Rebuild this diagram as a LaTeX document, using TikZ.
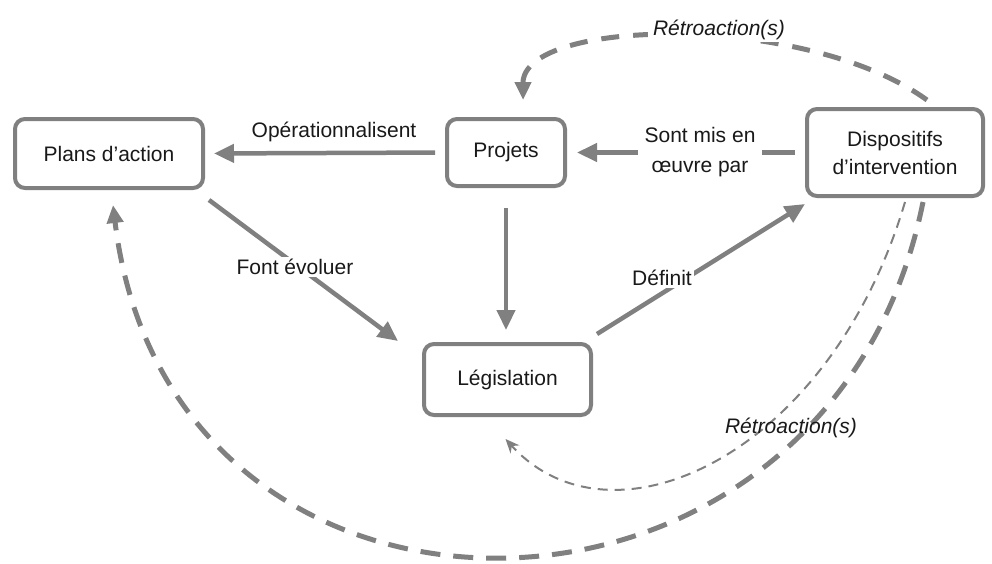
\documentclass[tikz,border=0pt]{standalone}
\usepackage{fontspec}
\setmainfont{Liberation Sans}
\usetikzlibrary{arrows.meta,calc}
\definecolor{lg}{RGB}{128,128,128}
\definecolor{tx}{RGB}{25,25,25}
\begin{document}
\begin{tikzpicture}[x=1pt,y=-1pt,
 box/.style={draw=lg,line width=4pt,rounded corners=10pt,fill=white,text=tx,font=\fontsize{21}{28}\selectfont,align=center,inner sep=0pt},
 arr/.style={draw=lg,line width=4.5pt,-{Triangle[length=20pt,width=18pt]}},
 lbl/.style={text=tx,font=\fontsize{21}{30}\selectfont,fill=white,inner sep=2pt,align=center},
 fb/.style={draw=lg,line width=5pt,dash pattern=on 20pt off 13pt,-{Triangle[length=18pt,width=16pt]}},
 fbthin/.style={draw=lg,line width=2pt,dash pattern=on 10pt off 7pt,-{Stealth[length=14pt,width=12pt]}},
]
\useasboundingbox (0,0) rectangle (992,563);

% nodes
\node[box,minimum width=188pt,minimum height=69pt] (plans) at (109,153.5) {Plans d’action};
\node[box,minimum width=118pt,minimum height=67pt] (proj) at (506,152.5) {Projets};
\node[box,minimum width=176pt,minimum height=87pt] (disp) at (895,152.5) {Dispositifs\\d’intervention};
\node[box,minimum width=167pt,minimum height=71pt] (leg) at (507.5,379.5) {Législation};

% feedback curves
\draw[fb,dash pattern=on 18pt off 14pt] ($(disp.north)+(32,-7)$) .. controls (805,12) and (523,18) .. ($(proj.north)+(17,-17)$);
\draw[fb] ($(disp.south)+(28,4)$) .. controls (829,670) and (170,677) .. ($(plans.south)+(4,15)$);
\draw[fbthin] ($(disp.south)+(10,4)$) .. controls (830,455) and (612,556) .. ($(leg.south)+(-2,22)$);

% solid arrows
\draw[arr,shorten <=10pt,shorten >=9pt] (proj.west) -- (plans.east);
\draw[arr,shorten <=10pt,shorten >=10pt] (disp.west) -- (proj.east);
\draw[arr] ($(plans.south east)+(4,10)$) -- ($(leg.north west)+(-24,-1)$);
\draw[arr,shorten <=20pt,shorten >=12pt] (proj.south) -- (proj.south |- leg.north);
\draw[arr] ($(leg.north east)+(4,-8)$) -- ($(disp.south west)+(0,6)$);

% labels
\node[lbl,fill=none] (l1) at (334,132) {Opérationnalisent};
\node[lbl,inner xsep=7pt] (l2) at (700,152) {Sont mis en\\œuvre par};
\node[lbl] (l3) at (295,267) {Font évoluer};
\node[lbl] (l4) at (662,278) {Définit};
\node[lbl,inner xsep=5pt] (r1) at (719,30) {\itshape Rétroaction(s)};
\node[lbl,fill=none] (r2) at (791,428) {\itshape Rétroaction(s)};
\end{tikzpicture}
\end{document}
